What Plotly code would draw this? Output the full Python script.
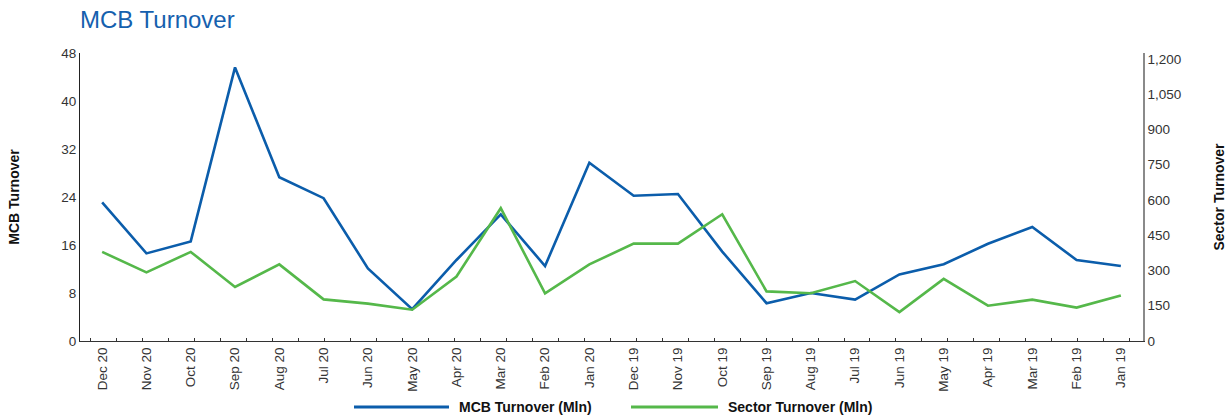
import plotly.graph_objects as go

# Monthly turnover, most recent month first
months = ["Dec 20", "Nov 20", "Oct 20", "Sep 20", "Aug 20", "Jul 20", "Jun 20", "May 20",
          "Apr 20", "Mar 20", "Feb 20", "Jan 20", "Dec 19", "Nov 19", "Oct 19", "Sep 19",
          "Aug 19", "Jul 19", "Jun 19", "May 19", "Apr 19", "Mar 19", "Feb 19", "Jan 19"]

mcb_turnover = [23.1, 14.6, 16.6, 45.6, 27.3, 23.8, 12.1, 5.3,
                13.5, 21.1, 12.5, 29.7, 24.2, 24.5, 14.9, 6.3,
                8.0, 6.9, 11.1, 12.8, 16.2, 19.0, 13.5, 12.5]

sector_turnover = [379, 292, 379, 230, 326, 177, 159, 133,
                   274, 565, 203, 326, 414, 414, 539, 211,
                   203, 255, 123, 264, 150, 176, 142, 194]

left_ticks = [0, 8, 16, 24, 32, 40, 48]
right_ticks = [0, 150, 300, 450, 600, 750, 900, 1050, 1200]

BLUE = "#0b5dab"
GREEN = "#55b84a"
FONT = "Liberation Sans, Arial, sans-serif"

x = list(range(len(months)))

fig = go.Figure()
fig.add_trace(go.Scatter(x=x, y=mcb_turnover, mode="lines", name="MCB Turnover (Mln)",
                         line=dict(color=BLUE, width=2.6), yaxis="y"))
fig.add_trace(go.Scatter(x=x, y=sector_turnover, mode="lines", name="Sector Turnover (Mln)",
                         line=dict(color=GREEN, width=2.6), yaxis="y2"))

fig.update_layout(
    width=1228, height=417,
    margin=dict(l=80, r=85, t=53, b=76),
    paper_bgcolor="white", plot_bgcolor="white",
    font=dict(family=FONT, size=13, color="#333333"),
    showlegend=False,
    title=dict(text="MCB Turnover", x=80 / 1228, xanchor="left", y=0.952, yanchor="middle",
               font=dict(family=FONT, size=24, color="#1560ae")),
    xaxis=dict(
        range=[-0.5, len(months) - 0.5], automargin=False,
        tickmode="array", tickvals=x, ticktext=months, tickangle=-90,
        ticks="", showgrid=False, zeroline=False,
        showline=True, linecolor="#333333", linewidth=1.2,
        tickfont=dict(size=13.5, color="#333333"),
        minor=dict(tickmode="linear", tick0=-0.259, dtick=0.5865, ticks="inside",
                   ticklen=3, tickcolor="#333333", showgrid=False),
    ),
    yaxis=dict(
        range=[0, 48], tickmode="array", tickvals=left_ticks, automargin=False,
        showgrid=False, zeroline=False, showline=True, linecolor="#222222", linewidth=1.2,
        ticks="", tickfont=dict(size=13.5, color="#333333"),
        title=dict(text="<b>MCB Turnover</b>", font=dict(size=14, color="#111111"), standoff=38),
    ),
    yaxis2=dict(
        range=[0, 1225], tickmode="array", tickvals=right_ticks, tickformat=",",
        overlaying="y", side="right", automargin=False,
        showgrid=False, zeroline=False, showline=True, linecolor="#8a8a8a", linewidth=1.5,
        ticks="", tickfont=dict(size=13.5, color="#333333"),
        title=dict(text="<b>Sector Turnover</b>", font=dict(size=14, color="#111111"), standoff=34),
    ),
)

# Legend drawn below the axis with long line samples
legend_items = [("MCB Turnover (Mln)", BLUE, 354, 449), ("Sector Turnover (Mln)", GREEN, 631, 718)]
for label, color, x0, x1 in legend_items:
    fig.add_shape(type="line", xref="paper", yref="paper",
                  x0=(x0 - 80) / 1063, x1=(x1 - 80) / 1063,
                  y0=(341 - 407) / 288, y1=(341 - 407) / 288,
                  line=dict(color=color, width=3))
    fig.add_annotation(text="<b>" + label + "</b>", xref="paper", yref="paper",
                       x=(x1 + 8 - 80) / 1063, y=(341 - 407) / 288,
                       xanchor="left", yanchor="middle", showarrow=False,
                       font=dict(family=FONT, size=14, color="#111111"))

fig.write_html("out.html")
